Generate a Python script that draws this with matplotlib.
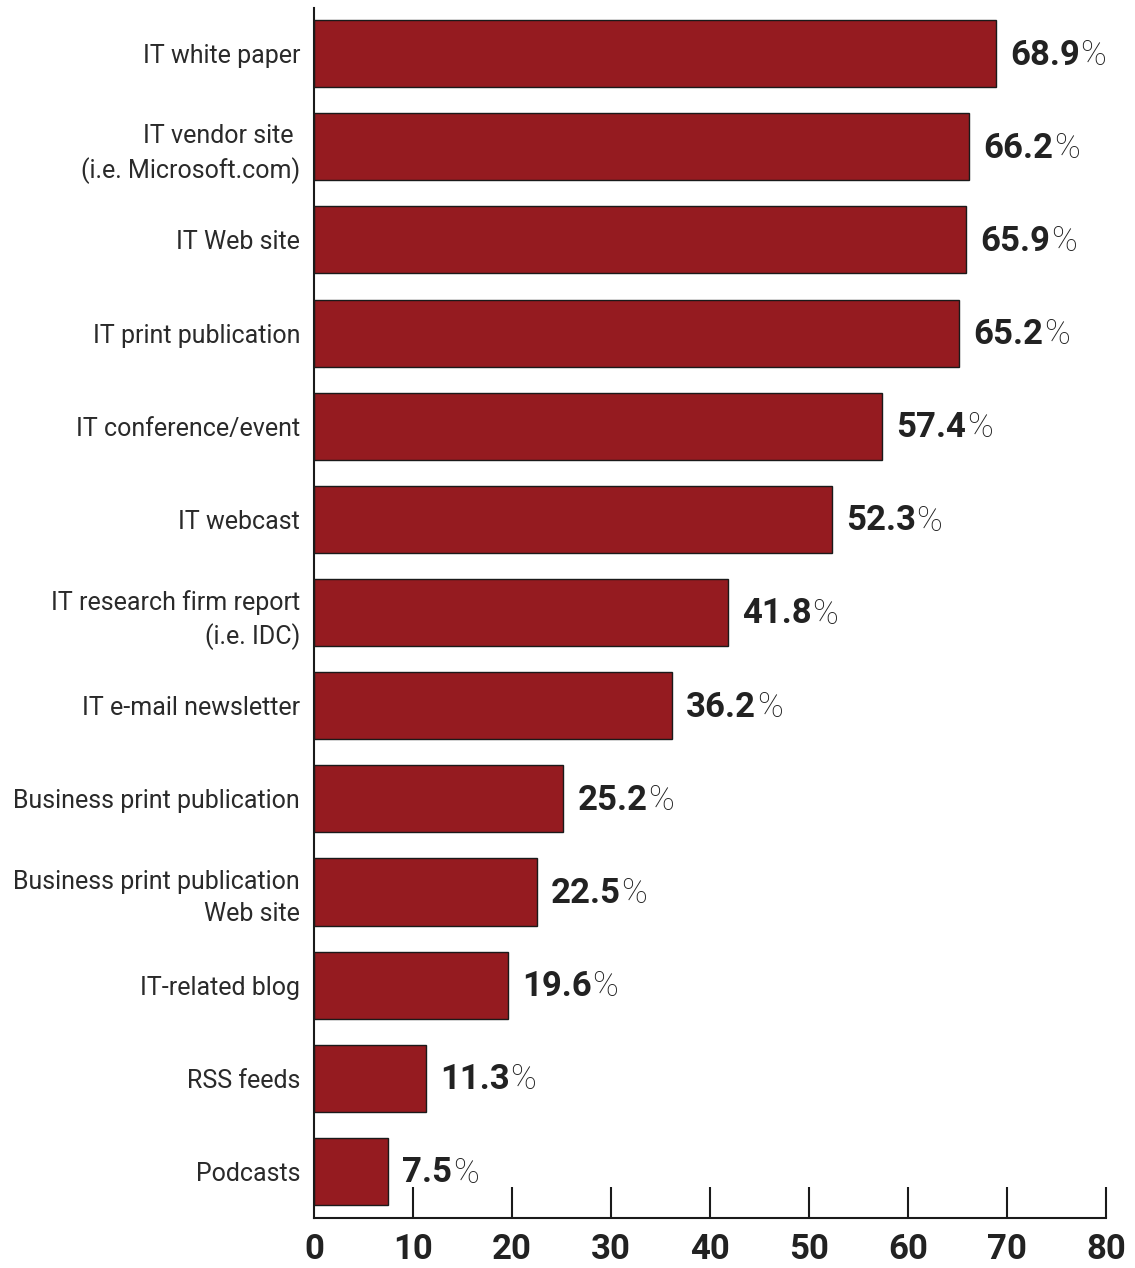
import matplotlib.pyplot as plt

plt.rcParams['font.family'] = ['Roboto', 'Liberation Sans', 'DejaVu Sans']

# Sources used, share of respondents (%)
sources = [
    "IT white paper",
    "IT vendor site \n(i.e. Microsoft.com)",
    "IT Web site",
    "IT print publication",
    "IT conference/event",
    "IT webcast",
    "IT research firm report\n(i.e. IDC)",
    "IT e-mail newsletter",
    "Business print publication",
    "Business print publication\nWeb site",
    "IT-related blog",
    "RSS feeds",
    "Podcasts",
]
shares = [68.9, 66.2, 65.9, 65.2, 57.4, 52.3, 41.8, 36.2, 25.2, 22.5, 19.6, 11.3, 7.5]
x_ticks = [0, 10, 20, 30, 40, 50, 60, 70, 80]

bar_color = "#951b20"
ink = "#222222"

fig = plt.figure(figsize=(11.35, 12.68), dpi=100)
ax = fig.add_axes([314 / 1135, 1 - 1218 / 1268, 792 / 1135, 1210 / 1268])

ypos = list(range(len(sources)))
ax.barh(ypos, shares, height=0.72, color=bar_color, edgecolor="#1a1a1a", linewidth=1.0)

ax.set_xlim(0, 80)
ax.set_ylim(12.5, -0.49)

for s in ["top", "right"]:
    ax.spines[s].set_visible(False)
for s in ["left", "bottom"]:
    ax.spines[s].set_linewidth(1.5)
    ax.spines[s].set_color("#1a1a1a")

ax.set_yticks(ypos)
ax.set_yticklabels(sources, fontsize=18, color="#2a2a2a", linespacing=1.4)
ax.tick_params(axis="y", length=0, pad=10)

ax.set_xticks(x_ticks)
ax.set_xticklabels([str(t) for t in x_ticks], fontsize=25, fontweight="bold", color=ink)
ax.tick_params(axis="x", direction="in", length=22, width=1.5, color="#1a1a1a", pad=11)
ax.xaxis.get_major_ticks()[0].tick1line.set_visible(False)

# value labels: bold number, lighter percent sign
for y, v in zip(ypos, shares):
    num = ax.annotate(f"{v}", xy=(v, y), xytext=(10, -1), textcoords="offset points",
                      ha="left", va="center", fontsize=25, fontweight="bold", color=ink)
    ax.annotate("%", xy=(1, 0.5), xycoords=num, xytext=(0.5, 0), textcoords="offset points",
                ha="left", va="center", fontsize=25, fontweight="light", color=ink)

fig.savefig("out.png", dpi=100)
